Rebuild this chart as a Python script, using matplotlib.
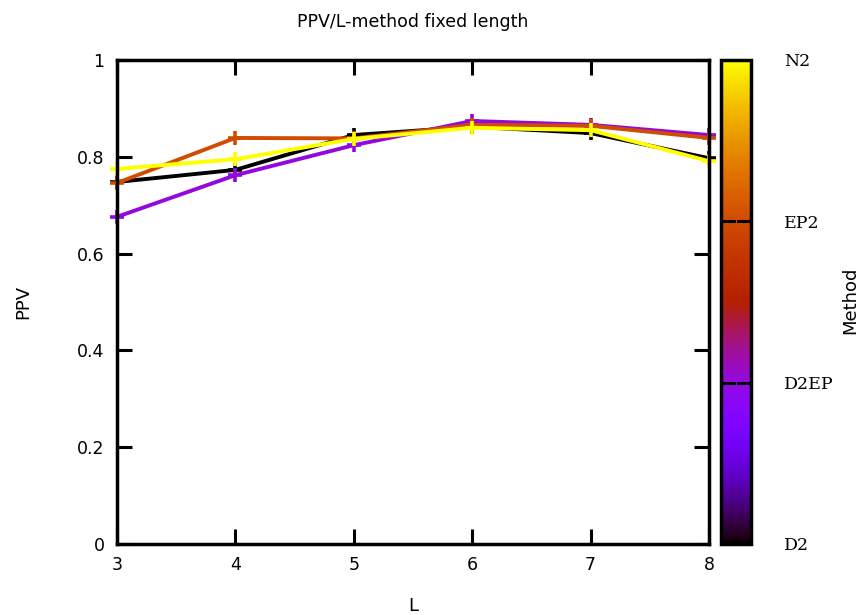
import numpy as np
import matplotlib
matplotlib.use("Agg")
import matplotlib.pyplot as plt
from matplotlib.colors import Normalize
from matplotlib.cm import ScalarMappable

L = [3, 4, 5, 6, 7, 8]
methods = ["D2", "D2EP", "EP2", "N2"]
method_level = [0.0, 1 / 3, 2 / 3, 1.0]
ppv_d2 = [0.748, 0.773, 0.845, 0.862, 0.849, 0.797]
ppv_d2ep = [0.676, 0.762, 0.824, 0.874, 0.866, 0.845]
ppv_ep2 = [0.746, 0.839, 0.838, 0.866, 0.864, 0.839]
ppv_n2 = [0.775, 0.795, 0.837, 0.860, 0.855, 0.791]
series = [ppv_d2, ppv_d2ep, ppv_ep2, ppv_n2]

cmap = plt.get_cmap("gnuplot")
norm = Normalize(0, 1)

fig = plt.figure(figsize=(8.62, 6.15), dpi=100)
W, H = 862, 615
ax = fig.add_axes([117 / W, 1 - 544 / H, (709 - 117) / W, (544 - 60) / H])

for vals, lvl in zip(series, method_level):
    ax.plot(L, vals, color=cmap(norm(lvl)), lw=2.8, marker="+", ms=10,
            mew=2.6, clip_on=False, zorder=3)

ax.set_xlim(3, 8)
ax.set_ylim(0, 1)
ax.set_xticks(L)
ax.set_yticks([0, 0.2, 0.4, 0.6, 0.8, 1.0])
ax.set_yticklabels(["0", "0.2", "0.4", "0.6", "0.8", "1"])
ax.tick_params(direction="in", length=11, width=2.2, top=True, right=True,
               labelsize=12.5, pad=9)
for s in ax.spines.values():
    s.set_linewidth(2.5)
    s.set_zorder(4)

ax.set_title("PPV/L-method fixed length", fontsize=12.5, pad=24)
ax.set_xlabel("L", fontsize=13, labelpad=16)
ax.set_ylabel("PPV", fontsize=13, labelpad=32)

cax = fig.add_axes([721 / W, 1 - 544 / H, (751 - 721) / W, (544 - 60) / H])
cb = fig.colorbar(ScalarMappable(norm=norm, cmap=cmap), cax=cax)
cb.outline.set_linewidth(2.5)
cb.set_ticks(method_level)
cb.set_ticklabels(methods)
cax.tick_params(length=0, pad=24)
for t in cax.get_yticklabels():
    t.set_fontfamily("DejaVu Serif")
    t.set_fontsize(12.5)
for lvl in method_level[1:3]:
    cax.plot([0, 0.42], [lvl, lvl], color="black", lw=2.2, transform=cax.get_yaxis_transform())
    cax.plot([0.58, 1.0], [lvl, lvl], color="black", lw=2.2, transform=cax.get_yaxis_transform())
fig.text(850 / W, 1 - 300 / H, "Method", rotation=90, ha="center", va="center", fontsize=13)

fig.savefig("out.png", dpi=100)
